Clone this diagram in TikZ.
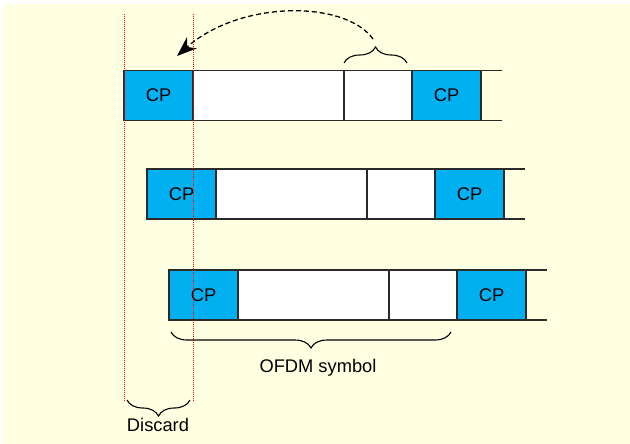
\documentclass[tikz,border=0pt]{standalone}
\usepackage{fontspec}
\setmainfont{Liberation Sans}
\usetikzlibrary{decorations.pathreplacing,arrows.meta}
\definecolor{bgyellow}{HTML}{FFFFE2}
\definecolor{cpblue}{HTML}{00B0F0}
\definecolor{edgegray}{HTML}{2A2A2A}
\begin{document}
\begin{tikzpicture}[x=1pt,y=-1pt,
  lbl/.style={font=\fontsize{18.3}{20}\selectfont, text=black},
  segbox/.style={draw=edgegray, line width=1.2pt, fill=white, minimum height=50pt,
    inner sep=0pt, outer sep=0pt, anchor=north west},
  cpbox/.style={segbox, fill=cpblue, minimum width=69pt, lbl},
  tailline/.style={draw=edgegray, line width=1.2pt},
  bracestyle/.style={draw=black, line width=1.1pt, decorate, decoration={brace, amplitude=16pt}},
  guide/.style={draw=red, line width=0.8pt, dash pattern=on 1pt off 1pt},
  hop/.style={draw=black, line width=1.3pt, dash pattern=on 5pt off 3pt, -{Stealth[length=20pt,width=15pt]}}
]
\useasboundingbox (0,0) rectangle (630,444);
\fill[white] (0,0) rectangle (630,444);
\fill[bgyellow] (3,4) rectangle (630,444);

% rows
\foreach \r/\dx/\ty in {1/0/70.5, 2/23/169, 3/45/270}{
  \node[cpbox] (cpa\r) at (124+\dx,\ty) {CP};
  \node[segbox, minimum width=151pt] (bda\r) at (cpa\r.north east) {};
  \node[segbox, minimum width=68pt] (bdb\r) at (bda\r.north east) {};
  \node[cpbox] (cpb\r) at (bdb\r.north east) {CP};
  \coordinate (tt\r) at ([xshift=21pt]cpb\r.north east);
  \coordinate (tb\r) at ([xshift=21pt]cpb\r.south east);
  \draw[tailline] (cpb\r.north east) -- (tt\r);
  \draw[tailline] (cpb\r.south east) -- (tb\r);
}

% small brace and arrow
\coordinate (sbl) at (344,63);
\coordinate (sbr) at (407,63);
\draw[bracestyle] (sbl) -- (sbr);
\coordinate (arrS) at (373,39);
\coordinate (arrE) at (177,56);
\draw[hop] (arrS) .. controls (345,0) and (240,0) .. (arrE);

% OFDM symbol brace
\coordinate (obr) at (451,332);
\coordinate (obl) at (171,332);
\draw[bracestyle] (obr) -- (obl);
\node[lbl] (ofdm) at (318,368) {OFDM symbol};

% Discard brace
\coordinate (dbr) at (190,400);
\coordinate (dbl) at (127,400);
\draw[bracestyle] (dbr) -- (dbl);
\node[lbl] (disc) at (158,425) {Discard};

% guide lines
\coordinate (g1t) at (124,14);
\coordinate (g1b) at (124,401);
\coordinate (g2t) at (193,14);
\coordinate (g2b) at (193,401);
\draw[guide] (g1t) -- (g1b);
\draw[guide] (g2t) -- (g2b);
\end{tikzpicture}
\end{document}
